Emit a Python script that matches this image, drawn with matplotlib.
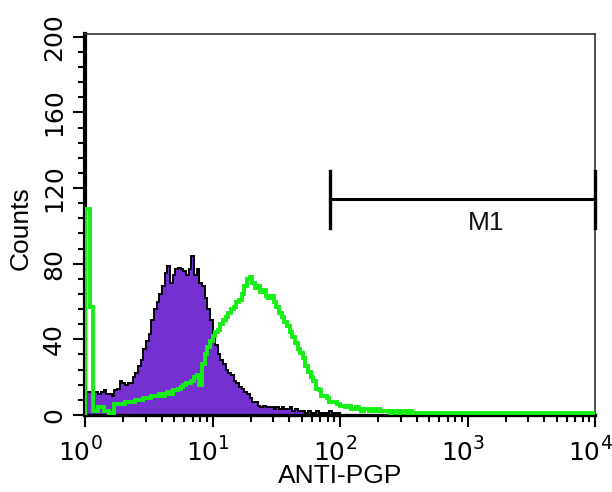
import numpy as np
import matplotlib
matplotlib.use("Agg")
import matplotlib.pyplot as plt
from matplotlib.ticker import MultipleLocator, LogLocator, NullFormatter

plt.rcParams["font.family"] = ["Liberation Sans", "DejaVu Sans"]

# histogram channels: 48 per decade, 10^0 .. 10^4
channels_per_decade = 48
n_channels = 4 * channels_per_decade

# isotype control (purple, filled), channels 0..95, zero afterwards
isotype = [12, 12, 12, 12, 12, 11, 12, 13, 11, 11,
           10, 13, 14, 18, 17, 16, 17, 17, 20, 22,
           26, 29, 35, 39, 43, 50, 56, 60, 64, 68,
           75, 79, 70, 74, 77, 78, 77, 76, 74, 77,
           84, 74, 77, 70, 68, 62, 56, 50, 43, 37,
           32, 29, 27, 24, 22, 21, 18, 17, 15, 14,
           12, 11, 9, 7, 7, 5, 4, 5, 4, 4,
           4, 3, 4, 3, 4, 3, 3, 4, 2, 3,
           2, 2, 2, 1, 2, 1, 1, 2, 1, 1,
           1, 1, 2, 1, 1, 1]
isotype_tail = 0

# ANTI-PGP stained (green line), channels 0..125, baseline afterwards
anti_pgp = [109, 109, 57, 2, 2, 4, 4, 2, 2, 1,
            1, 6, 6, 6, 6, 7, 7, 7, 7, 8,
            8, 8, 9, 9, 9, 10, 10, 10, 11, 10,
            11, 12, 11, 13, 13, 14, 15, 16, 17, 17,
            18, 20, 21, 16, 27, 32, 36, 39, 42, 44,
            45, 48, 50, 52, 54, 56, 57, 60, 61, 64,
            68, 72, 73, 70, 67, 68, 65, 66, 63, 62,
            63, 60, 57, 54, 52, 49, 47, 44, 41, 38,
            35, 33, 30, 26, 23, 20, 18, 14, 13, 10,
            10, 9, 7, 7, 7, 6, 5, 5, 4, 5,
            3, 3, 4, 3, 2, 3, 3, 2, 3, 2,
            3, 2, 2, 2, 2, 1, 2, 2, 1, 2,
            2, 1, 2, 1, 1, 1]
anti_pgp_tail = 1

# M1 marker gate
m1_start = 83
m1_end = 1e4
m1_level = 114
m1_cap = 15
m1_label_pos = (1390, 101.5)

decades = [0, 1, 2, 3, 4]
y_major = [0, 40, 80, 120, 160, 200]


def padded(values, fill):
    return np.array(values + [fill] * (n_channels - len(values)), dtype=float)


def make_plot():
    edges = np.logspace(0, 4, n_channels + 1)
    iso = padded(isotype, isotype_tail)
    pgp = padded(anti_pgp, anti_pgp_tail)

    fig = plt.figure(figsize=(6.12, 4.92), dpi=100)
    ax = fig.add_axes([85 / 612, 77 / 492, 510 / 612, 381 / 492])

    ax.stairs(iso, edges, fill=True, color="#7530d2", zorder=2)
    ax.stairs(iso, edges, color="black", lw=1.4, zorder=3)
    ax.stairs(pgp, edges, color="#14f014", lw=2.8, zorder=4)

    # M1 gate
    ax.plot([m1_start, m1_end], [m1_level, m1_level], color="black", lw=2.2,
            zorder=5, clip_on=False)
    for xe in (m1_start, m1_end):
        ax.plot([xe, xe], [m1_level - m1_cap, m1_level + m1_cap], color="black",
                lw=2.4, zorder=5, clip_on=False)
    ax.text(m1_label_pos[0], m1_label_pos[1], "M1", fontsize=19,
            ha="center", va="center", color="#111111")

    ax.set_xscale("log")
    ax.set_xlim(1, 1e4)
    ax.set_ylim(0, 201.5)

    ax.xaxis.set_major_locator(LogLocator(base=10, numticks=10))
    ax.xaxis.set_minor_locator(LogLocator(base=10, subs=np.arange(2, 10), numticks=20))
    ax.xaxis.set_major_formatter(NullFormatter())
    ax.xaxis.set_minor_formatter(NullFormatter())
    ax.set_yticks(y_major)
    ax.yaxis.set_minor_locator(MultipleLocator(8))
    ax.set_yticklabels([str(v) for v in y_major], rotation=90, va="center",
                       family="DejaVu Sans", fontsize=18)

    ax.tick_params(which="major", direction="out", length=8.5, width=1.5,
                   color="black", top=False, right=False)
    ax.tick_params(which="minor", direction="out", length=5, width=1.5,
                   color="black", top=False, right=False)
    ax.tick_params(axis="y", which="major", pad=5)

    # decade labels 10^n with large exponent
    for d in decades:
        ax.annotate("10", xy=(10 ** d, 0), xycoords=("data", "axes fraction"),
                    xytext=(3.6, -18.5), textcoords="offset points",
                    ha="right", va="top", fontsize=18, family="DejaVu Sans")
        ax.annotate(str(d), xy=(10 ** d, 0), xycoords=("data", "axes fraction"),
                    xytext=(3.8, -14.0), textcoords="offset points",
                    ha="left", va="top", fontsize=13.5, family="DejaVu Sans")

    ax.set_xlabel("ANTI-PGP", fontsize=19)
    ax.xaxis.set_label_coords(0.5, -0.128)
    ax.xaxis.label.set_va("top")
    ax.set_ylabel("Counts", fontsize=19)
    ax.yaxis.set_label_coords(-0.103, 0.49)

    ax.spines["left"].set_linewidth(3.0)
    ax.spines["bottom"].set_linewidth(2.4)
    for side in ("top", "right"):
        ax.spines[side].set_linewidth(1.2)
        ax.spines[side].set_color("#333333")

    fig.savefig("out.png", dpi=100)
    print("saved out.png")


if __name__ == "__main__":
    make_plot()
